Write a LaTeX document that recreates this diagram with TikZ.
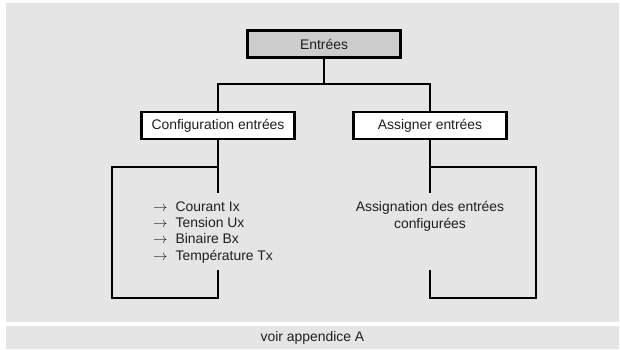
\documentclass[tikz,border=0pt]{standalone}
\usepackage{fontspec}
\setmainfont{Liberation Sans}
\definecolor{panelgray}{gray}{0.90}
\definecolor{headgray}{gray}{0.80}
\definecolor{txtgray}{gray}{0.12}
\tikzset{
  box/.style={draw, line width=2.6pt, fill=white, minimum width=153pt, minimum height=27pt, inner sep=0pt},
  headbox/.style={box, fill=headgray},
  txt/.style={text=txtgray, font=\fontsize{13.9}{16.2}\selectfont},
  wire/.style={line width=2.6pt}
}
\begin{document}
\begin{tikzpicture}[x=1pt,y=-1pt,every node/.style={txt}]
\useasboundingbox (0,0) rectangle (620,349);
% panels
\fill[panelgray] (6,3) rectangle (619,322);
\fill[panelgray] (6,326) rectangle (619,349);
% boxes
\node[headbox] (entrees) at (324,44) {Entrées};
\node[box] (config) at (218,125.5) {Configuration entrées};
\node[box] (assign) at (430,125.5) {Assigner entrées};
% tree
\coordinate (bus) at (324,84);
\draw[wire] (entrees) -- (bus);
\draw[wire] (config.north) |- (bus) -| (assign.north);
% left bracket
\coordinate (cfg-a) at (218,193);
\coordinate (cfg-b) at (112,167);
\coordinate (cfg-c) at (112,298);
\coordinate (cfg-d) at (218,270);
\draw[wire] (config.south) -- (cfg-a);
\draw[wire] (config.south |- cfg-b) -- (cfg-b) -- (cfg-c) -| (cfg-d);
% right bracket
\coordinate (asg-a) at (430,193);
\coordinate (asg-b) at (536,167);
\coordinate (asg-c) at (536,298);
\coordinate (asg-d) at (430,270);
\draw[wire] (assign.south) -- (asg-a);
\draw[wire] (assign.south |- asg-b) -- (asg-b) -- (asg-c) -| (asg-d);
% texts
\node[align=left, anchor=north west, inner sep=0pt] (cfglist) at (153,201.5)
  {$\rightarrow$\hspace{8pt}Courant Ix\\
   $\rightarrow$\hspace{8pt}Tension Ux\\
   $\rightarrow$\hspace{8pt}Binaire Bx\\
   $\rightarrow$\hspace{8pt}Température Tx};
\node[align=center, anchor=north, inner sep=0pt] (asglist) at (430,201.5)
  {Assignation des entrées\\configurées};
\node (note) at (312.5,337.5) {voir appendice A};
\end{tikzpicture}
\end{document}
